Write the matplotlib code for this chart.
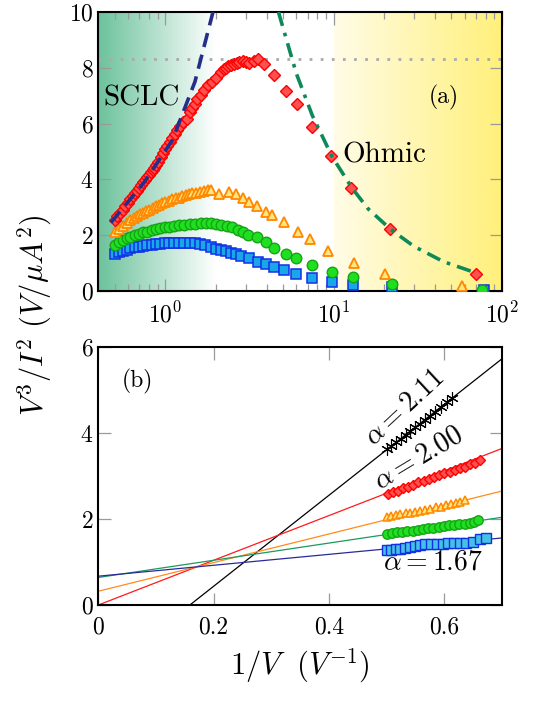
import numpy as np
import matplotlib
matplotlib.use("Agg")
import matplotlib.pyplot as plt
from matplotlib.colors import LinearSegmentedColormap

plt.rcParams['font.family'] = 'serif'
plt.rcParams['font.serif'] = ['cmr10', 'DejaVu Serif']
plt.rcParams['mathtext.fontset'] = 'cm'
plt.rcParams['axes.unicode_minus'] = False
plt.rcParams['axes.formatter.use_mathtext'] = True

# ---------------- data: panel (a) ----------------
red_V = [0.50, 0.52, 0.54, 0.56, 0.58, 0.60, 0.62, 0.64, 0.66, 0.68, 0.70, 0.72, 0.74, 0.76, 0.78,
         0.80, 0.82, 0.84, 0.86, 0.88, 0.91, 0.94, 0.97, 1.00, 1.03, 1.06, 1.10, 1.14, 1.18, 1.23,
         1.28, 1.34, 1.40, 1.45, 1.50, 1.55, 1.62, 1.70, 1.80, 1.90, 2.00, 2.14, 2.22, 2.29, 2.37,
         2.45, 2.55, 2.65, 2.75, 2.88, 3.00, 3.15, 3.35, 3.55, 3.87, 4.43, 5.24, 6.04, 7.4, 9.7,
         12.7, 21.6, 69.7]
red_y = [2.55, 2.68, 2.80, 2.92, 3.04, 3.16, 3.28, 3.39, 3.50, 3.60, 3.70, 3.80, 3.90, 3.99, 4.08,
         4.17, 4.26, 4.34, 4.42, 4.50, 4.64, 4.80, 4.95, 5.08, 5.20, 5.33, 5.48, 5.62, 5.77, 5.92,
         6.05, 6.18, 6.40, 6.55, 6.72, 6.88, 7.04, 7.20, 7.38, 7.50, 7.62, 7.86, 7.94, 8.00, 8.05,
         8.10, 8.14, 8.17, 8.20, 8.24, 8.22, 8.18, 8.26, 8.30, 8.14, 7.74, 7.18, 6.69, 5.87, 4.84,
         3.68, 2.21, 0.61]

orange_V = [0.50, 0.53, 0.56, 0.59, 0.62, 0.65, 0.68, 0.71, 0.74, 0.77, 0.80, 0.84, 0.88, 0.92, 0.96,
            1.00, 1.05, 1.10, 1.15, 1.20, 1.26, 1.32, 1.38, 1.45, 1.52, 1.60, 1.70, 1.80, 1.87, 2.09,
            2.40, 2.63, 2.88, 3.15, 3.50, 3.96, 4.30, 5.1, 6.1, 7.25, 9.3, 13.3, 20.3, 57.5]
orange_y = [2.11, 2.23, 2.34, 2.44, 2.54, 2.61, 2.69, 2.75, 2.81, 2.87, 2.92, 2.98, 3.04, 3.10, 3.15,
            3.20, 3.24, 3.28, 3.32, 3.35, 3.39, 3.43, 3.46, 3.50, 3.53, 3.56, 3.59, 3.61, 3.62, 3.48,
            3.56, 3.48, 3.32, 3.20, 3.06, 2.84, 2.72, 2.46, 2.13, 1.85, 1.44, 1.01, 0.61, 0.18]

green_V = [0.50, 0.53, 0.56, 0.59, 0.62, 0.66, 0.70, 0.74, 0.78, 0.83, 0.88, 0.93, 0.99, 1.05, 1.12,
           1.20, 1.30, 1.40, 1.50, 1.63, 1.75, 1.87, 2.00, 2.15, 2.34, 2.50, 2.70, 2.90, 3.09, 3.50,
           3.96, 4.45, 5.2, 6.0, 7.4, 9.8, 13.0, 22.1, 76.0]
green_y = [1.64, 1.75, 1.83, 1.90, 1.95, 2.01, 2.06, 2.10, 2.13, 2.17, 2.21, 2.25, 2.28, 2.31, 2.33,
           2.35, 2.37, 2.39, 2.41, 2.43, 2.43, 2.42, 2.41, 2.38, 2.33, 2.28, 2.19, 2.10, 2.00, 1.95,
           1.77, 1.53, 1.33, 1.17, 0.92, 0.68, 0.49, 0.25, 0.04]

blue_V = [0.50, 0.53, 0.56, 0.59, 0.62, 0.66, 0.70, 0.74, 0.78, 0.83, 0.88, 0.93, 0.99, 1.05, 1.12,
          1.20, 1.30, 1.40, 1.50, 1.60, 1.72, 1.87, 2.00, 2.14, 2.30, 2.45, 2.62, 2.81, 3.15, 3.55,
          3.96, 4.40, 5.06, 6.0, 7.4, 9.8, 13.0, 22.3, 78.0]
blue_y = [1.32, 1.38, 1.43, 1.48, 1.53, 1.56, 1.59, 1.62, 1.64, 1.66, 1.68, 1.70, 1.71, 1.72, 1.73,
          1.73, 1.73, 1.73, 1.72, 1.70, 1.65, 1.57, 1.52, 1.47, 1.42, 1.37, 1.31, 1.25, 1.17, 1.05,
          0.96, 0.87, 0.75, 0.61, 0.45, 0.31, 0.21, 0.13, 0.02]

sclc_V = [0.475, 0.75, 1.1, 1.5, 1.92]
sclc_y = [2.45, 3.9, 5.4, 7.5, 10.0]
ohmic_V = [4.7, 6.0, 7.46, 9.8, 12.9, 16.0, 21.8, 30.0, 45.0, 70.8]
ohmic_y = [10.0, 7.8, 6.3, 4.81, 3.68, 2.95, 2.21, 1.6, 1.05, 0.64]
plateau_y = 8.3

# ---------------- data: panel (b) ----------------
blk_x = [0.500, 0.508, 0.517, 0.525, 0.533, 0.541, 0.549, 0.557, 0.566, 0.575, 0.584, 0.594, 0.604, 0.614]
blk_y = [3.62, 3.70, 3.79, 3.87, 3.96, 4.04, 4.13, 4.21, 4.31, 4.40, 4.50, 4.60, 4.71, 4.82]
rb_x = [0.503, 0.511, 0.519, 0.528, 0.537, 0.546, 0.555, 0.564, 0.573, 0.582, 0.591, 0.600, 0.609,
        0.618, 0.627, 0.636, 0.645, 0.654, 0.662]
rb_y = [2.58, 2.62, 2.66, 2.71, 2.75, 2.80, 2.85, 2.89, 2.93, 2.98, 3.02, 3.06, 3.09, 3.14, 3.18,
        3.22, 3.27, 3.30, 3.38]
ob_x = [0.500, 0.508, 0.516, 0.524, 0.533, 0.541, 0.550, 0.558, 0.567, 0.576, 0.585, 0.594, 0.603,
        0.612, 0.620, 0.628, 0.636]
ob_y = [2.05, 2.07, 2.09, 2.11, 2.13, 2.15, 2.17, 2.19, 2.22, 2.24, 2.27, 2.29, 2.32, 2.34, 2.37,
        2.40, 2.44]
gb_x = [0.500, 0.509, 0.518, 0.527, 0.536, 0.545, 0.554, 0.563, 0.572, 0.581, 0.590, 0.599, 0.608,
        0.617, 0.626, 0.635, 0.644, 0.652, 0.659]
gb_y = [1.66, 1.67, 1.69, 1.70, 1.72, 1.73, 1.75, 1.76, 1.78, 1.79, 1.81, 1.83, 1.85, 1.86, 1.88,
        1.89, 1.90, 1.92, 1.97]
bb_x = [0.500, 0.508, 0.516, 0.524, 0.532, 0.540, 0.549, 0.558, 0.567, 0.577, 0.587, 0.597, 0.607,
        0.617, 0.627, 0.637, 0.649, 0.661, 0.673]
bb_y = [1.29, 1.29, 1.30, 1.31, 1.32, 1.34, 1.38, 1.40, 1.41, 1.41, 1.42, 1.43, 1.44, 1.44, 1.45,
        1.45, 1.46, 1.53, 1.55]

# fit lines (slope, intercept)
fit_names = ['black', 'red', 'orange', 'green', 'blue']
fit_slope = [10.58, 5.20, 3.33, 2.00, 1.27]
fit_icpt = [-1.68, 0.0, 0.32, 0.64, 0.67]
fit_color = ['black', '#ff1a1a', '#ff8c1a', '#1a9960', '#2a2a99']

alpha_labels = [r'$\alpha = 2.11$', r'$\alpha = 2.00$', r'$\alpha = 1.67$']

# ---------------- figure ----------------
W, H = 537, 701
fig = plt.figure(figsize=(W / 100, H / 100), dpi=100)

def frac(x0, y0, x1, y1):
    return [x0 / W, 1 - y1 / H, (x1 - x0) / W, (y1 - y0) / H]

axa = fig.add_axes(frac(98.3, 12, 502, 291))
axb = fig.add_axes(frac(98.3, 347, 502, 605))

tickcol = '#9a9a9a'
for ax in (axa, axb):
    for s in ax.spines.values():
        s.set_linewidth(1.5)
    ax.tick_params(which='both', direction='in', top=True, right=True, color=tickcol,
                   labelsize=17, width=0.9)
    ax.tick_params(which='major', length=9)
    ax.tick_params(which='minor', length=5)
    ax.tick_params(axis='x', pad=8)

# panel (a)
axa.set_xscale('log')
axa.set_xlim(0.4, 100)
axa.set_ylim(0, 10)
xl0, xl1 = np.log10(0.4), np.log10(100)
gfrac = (np.log10(2.0) - xl0) / (xl1 - xl0)
yfrac = (np.log10(10.0) - xl0) / (xl1 - xl0)
grad = np.linspace(0, 1, 256).reshape(1, -1)
cm_g = LinearSegmentedColormap.from_list('g', ['#6cc29c', '#ffffff'])
cm_y = LinearSegmentedColormap.from_list('y', ['#fffce6', '#fff07a'])
axa.imshow(grad, cmap=cm_g, extent=[0, gfrac, 0, 1], transform=axa.transAxes,
           aspect='auto', zorder=0, interpolation='bilinear')
axa.imshow(grad, cmap=cm_y, extent=[yfrac, 1, 0, 1], transform=axa.transAxes,
           aspect='auto', zorder=0, interpolation='bilinear')
axa.set_xlim(0.4, 100)
axa.set_ylim(0, 10)

axa.axhline(plateau_y, color='#aaaaaa', ls=(0, (1, 3)), lw=2, zorder=1)

axa.plot(blue_V, blue_y, 's', ms=7, mfc='#1aa7e8', mec='#1030e8', mew=1.1, zorder=3)
axa.plot(green_V, green_y, 'o', ms=7.6, mfc='#1ee01e', mec='#17a317', mew=1.0, zorder=4)
axa.plot(orange_V, orange_y, '^', ms=7, mfc='#ffe680', mec='#ff8800', mew=1.3, zorder=5)
axa.plot(red_V, red_y, 'D', ms=5.8, mfc='#ff5050', mec='#ff0000', mew=1.0, zorder=6)
axa.plot(sclc_V, sclc_y, color='#252f8a', lw=2.6, ls=(0, (4, 2.2)), zorder=7)
axa.plot(ohmic_V, ohmic_y, color='#0e8a5a', lw=2.6, ls=(0, (4, 2, 1, 2)), zorder=7)

axa.text(0.43, 6.92, 'SCLC', fontsize=21, va='center', ha='left', zorder=8)
axa.text(11.2, 4.87, 'Ohmic', fontsize=21, va='center', ha='left', zorder=8)
axa.text(45, 6.92, '(a)', fontsize=17, va='center', ha='center', zorder=8)
axa.set_yticks([0, 2, 4, 6, 8, 10])

# panel (b)
axb.set_xlim(0, 0.7)
axb.set_ylim(0, 6)
axb.set_xticks([0, 0.2, 0.4, 0.6])
axb.set_xticklabels(['0', '0.2', '0.4', '0.6'])
axb.set_yticks([0, 2, 4, 6])
xx = np.array([0.0, 0.7])
for s, b, c in zip(fit_slope, fit_icpt, fit_color):
    axb.plot(xx, s * xx + b, color=c, lw=0.9, zorder=2)

axb.plot(bb_x, bb_y, 's', ms=6.5, mfc='#45c0e6', mec='#1030e8', mew=1.0, zorder=3)
axb.plot(gb_x, gb_y, 'o', ms=6.8, mfc='#1ee01e', mec='#17a317', mew=1.0, zorder=3)
axb.plot(ob_x, ob_y, '^', ms=6.2, mfc='#ffe680', mec='#ff8800', mew=1.1, zorder=3)
axb.plot(rb_x, rb_y, 'D', ms=5.6, mfc='#ff5050', mec='#ff0000', mew=1.0, zorder=3)
axb.plot(blk_x, blk_y, marker=(6, 2, 0), ls='none', ms=9, mec='black', mew=0.8, zorder=3)

axb.text(0.532, 4.58, alpha_labels[0], fontsize=20, rotation=43, ha='center', va='center')
axb.text(0.556, 3.42, alpha_labels[1], fontsize=20, rotation=31, ha='center', va='center')
axb.text(0.581, 0.99, alpha_labels[2], fontsize=20, ha='center', va='center')
axb.text(0.067, 5.2, '(b)', fontsize=17, ha='center', va='center')

axb.set_xlabel(r'$1/V\ \ (V^{-1})$', fontsize=22, labelpad=6)
fig.text(35 / W, 1 - 315 / H, r'$V^3/I^2\ (V/\mu A^2)$', fontsize=22, rotation=90,
         ha='center', va='center')

fig.savefig('out.png', dpi=100)
